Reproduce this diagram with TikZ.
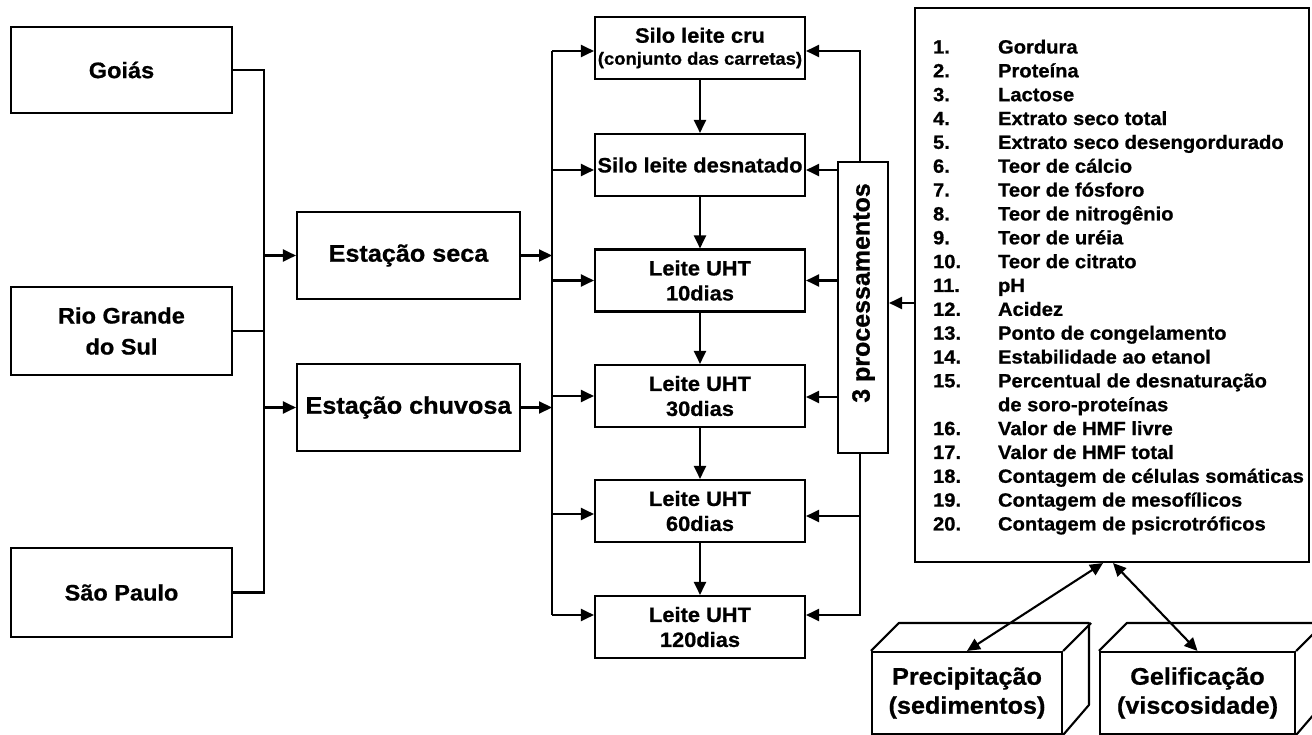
\documentclass[tikz,border=0pt]{standalone}
\usepackage{fontspec}
\setmainfont{Liberation Sans}[FakeStretch=1.05,BoldFeatures={FakeBold=0.8}]
\newfontfamily\rotfont{Liberation Sans}[BoldFeatures={FakeBold=0.8}]
\usetikzlibrary{arrows.meta}
\begin{document}
\begin{tikzpicture}[x=1pt,y=-1pt,line width=2.1pt,
  box/.style={draw,line width=2.1pt,inner sep=0pt,align=center},
  lbox/.style={box,minimum width=221pt,font=\bfseries\fontsize{22.4}{31}\selectfont},
  sbox/.style={box,minimum width=223pt,minimum height=87pt,font=\bfseries\fontsize{24}{28}\selectfont},
  mbox/.style={box,minimum width=210pt,minimum height=62pt,font=\bfseries\fontsize{20.8}{25}\selectfont},
  cbox/.style={box,minimum height=82pt,font=\bfseries\fontsize{24}{29}\selectfont},
  arr/.style={-{Triangle[length=13pt,width=12pt]}},
  darr/.style={{Triangle[length=13pt,width=12pt]}-{Triangle[length=13pt,width=12pt]}}]
\useasboundingbox (0,0) rectangle (1312,735);
\fill[white] (0,0) rectangle (1312,735);
\clip (0,0) rectangle (1312,735);

% left boxes
\node[lbox,minimum height=86pt] (goias) at (121.5,70) {Goiás};
\node[lbox,minimum height=88pt] (rgs) at (121.5,331) {Rio Grande\\do Sul};
\node[lbox,minimum height=89pt] (sp) at (121.5,592.5) {São Paulo};

% seasons
\node[sbox] (seca) at (408.5,255.5) {Estação seca};
\node[sbox] (chuv) at (408.5,407.5) {Estação chuvosa};

% middle boxes
\node[mbox] (cru) at (700,48) {Silo leite cru\\[-3pt]{\fontsize{17.6}{22}\selectfont (conjunto das carretas)}};
\node[mbox] (desn) at (700,165) {Silo leite desnatado};
\node[mbox] (d10) at (700,280.5) {Leite UHT\\10dias};
\node[mbox] (d30) at (700,396) {Leite UHT\\30dias};
\node[mbox] (d60) at (700,511) {Leite UHT\\60dias};
\node[mbox] (d120) at (700,627) {Leite UHT\\120dias};

% processing box
\node[box,minimum width=50pt,minimum height=291pt] (proc) at (863,307.5) {};
\node[rotate=90,inner sep=0pt,font=\rotfont\bfseries\fontsize{25}{30}\selectfont] (proclabel) at (863.5,293) {3 processamentos};

% list box
\node[box,minimum width=394pt,minimum height=554pt] (list) at (1112,285) {};
\node[anchor=base west,inner sep=0pt,font=\bfseries\fontsize{19.2}{23.85}\selectfont] (items) at (932,53.5)
{\begin{tabular}[t]{@{}p{65pt}@{}l@{}}
1. & Gordura\\
2. & Proteína\\
3. & Lactose\\
4. & Extrato seco total\\
5. & Extrato seco desengordurado\\
6. & Teor de cálcio\\
7. & Teor de fósforo\\
8. & Teor de nitrogênio\\
9. & Teor de uréia\\
10. & Teor de citrato\\
11. & pH\\
12. & Acidez\\
13. & Ponto de congelamento\\
14. & Estabilidade ao etanol\\
15. & Percentual de desnaturação\\
 & de soro-proteínas\\
16. & Valor de HMF livre\\
17. & Valor de HMF total\\
18. & Contagem de células somáticas\\
19. & Contagem de mesofílicos\\
20. & Contagem de psicrotróficos
\end{tabular}};

% 3D boxes
\node[cbox,minimum width=190pt] (prec) at (967,693) {Precipitação\\(sedimentos)};
\node[cbox,minimum width=195pt] (gel) at (1197.5,693) {Gelificação\\(viscosidade)};
\draw[line join=round] (prec.north west) -- ++(28,-28) -- ++(190,0) -- ++(0,82) -- (prec.south east);
\draw (prec.north east) -- ++(28,-28);
\draw[line join=round] (gel.north west) -- ++(28,-28) -- ++(195,0) -- ++(0,82) -- (gel.south east);
\draw (gel.north east) -- ++(28,-28);

% left connectors
\coordinate (jL) at (264,0);
\draw (goias.east) -| (jL |- sp.east) -- (sp.east);
\draw (rgs.east) -- (jL |- rgs.east);
\draw[arr] (jL |- seca.west) -- (seca.west);
\draw[arr] (jL |- chuv.west) -- (chuv.west);

% middle-left connectors
\coordinate (jM) at (552,0);
\coordinate (cruW) at ([yshift=-3pt]cru.west);
\coordinate (desnW) at ([yshift=-5pt]desn.west);
\coordinate (d60W) at ([yshift=-3pt]d60.west);
\coordinate (d120W) at ([yshift=12pt]d120.west);
\draw[arr] (seca.east) -- (jM |- seca.east);
\draw[arr] (chuv.east) -- (jM |- chuv.east);
\draw (jM |- cruW) -- (jM |- d120W);
\draw[arr] (jM |- cruW) -- (cruW);
\draw[arr] (jM |- desnW) -- (desnW);
\draw[arr] (jM |- d10.west) -- (d10.west);
\draw[arr] (jM |- d30.west) -- (d30.west);
\draw[arr] (jM |- d60W) -- (d60W);
\draw[arr] (jM |- d120W) -- (d120W);

% vertical chain
\draw[arr] (cru.south) -- (desn.north);
\draw[arr] (desn.south) -- (d10.north);
\draw[arr] (d10.south) -- (d30.north);
\draw[arr] (d30.south) -- (d60.north);
\draw[arr] (d60.south) -- (d120.north);

% right connectors
\coordinate (jR) at (860,0);
\coordinate (cruE) at ([yshift=-3pt]cru.east);
\coordinate (desnE) at ([yshift=-5pt]desn.east);
\coordinate (d30E) at ([yshift=-1pt]d30.east);
\coordinate (d60E) at ([yshift=-5pt]d60.east);
\coordinate (d120E) at ([yshift=12pt]d120.east);
\draw[arr] (jR |- proc.north) |- (cruE);
\draw[arr] (proc.west |- desnE) -- (desnE);
\draw[arr] (proc.west |- d10.east) -- (d10.east);
\draw[arr] (proc.west |- d30E) -- (d30E);
\draw[arr] (jR |- proc.south) |- (d120E);
\draw[arr] (jR |- d60E) -- (d60E);
\coordinate (procE) at ([yshift=4.5pt]proc.east);
\draw[arr] (list.west |- procE) -- (procE);

% list to 3D boxes
\draw[darr] ([xshift=-9pt]list.south) -- (prec.north);
\draw[darr] ([xshift=1pt]list.south) -- (gel.north);
\end{tikzpicture}
\end{document}
